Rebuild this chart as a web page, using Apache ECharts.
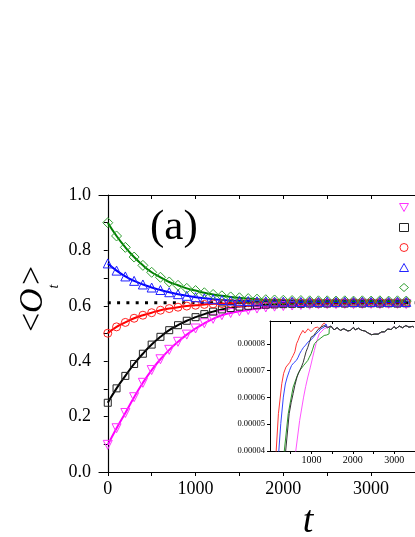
<!DOCTYPE html>
<html>
<head>
<meta charset="utf-8">
<script src="https://cdn.jsdelivr.net/npm/echarts@6/dist/echarts.min.js"></script>
<style>
  body { margin: 0; background: #fff; }
  #chart { width: 415px; height: 537px; }
</style>
</head>
<body>
<div id="chart"></div>
<script>
// main panel: t values of the markers
const tMain = [0, 100, 200, 300, 400, 500, 600, 700, 800, 900, 1000, 1100, 1200, 1300, 1400, 1500, 1600,
  1700, 1800, 1900, 2000, 2100, 2200, 2300, 2400, 2500, 2600, 2700, 2800, 2900, 3000, 3100, 3200, 3300, 3400];

const magenta = [0.098, 0.158, 0.213, 0.270, 0.322, 0.368, 0.407, 0.441, 0.470, 0.496, 0.518, 0.537, 0.553,
  0.566, 0.574, 0.580, 0.585, 0.590, 0.594, 0.597, 0.599, 0.601, 0.603, 0.604, 0.605, 0.606, 0.606, 0.607,
  0.606, 0.607, 0.607, 0.606, 0.607, 0.607, 0.606];
const black = [0.250, 0.302, 0.347, 0.390, 0.427, 0.460, 0.488, 0.512, 0.530, 0.546, 0.559, 0.570, 0.579,
  0.587, 0.592, 0.597, 0.600, 0.602, 0.604, 0.605, 0.606, 0.607, 0.607, 0.608, 0.608, 0.608, 0.609, 0.608,
  0.609, 0.608, 0.609, 0.608, 0.609, 0.608, 0.609];
const red = [0.501, 0.524, 0.540, 0.555, 0.566, 0.575, 0.584, 0.590, 0.595, 0.599, 0.602, 0.605, 0.607,
  0.608, 0.609, 0.610, 0.611, 0.611, 0.611, 0.612, 0.611, 0.612, 0.611, 0.612, 0.612, 0.611, 0.612, 0.611,
  0.612, 0.612, 0.611, 0.612, 0.611, 0.612, 0.612];
const blue = [0.753, 0.727, 0.706, 0.690, 0.677, 0.666, 0.657, 0.649, 0.642, 0.636, 0.631, 0.627, 0.624,
  0.621, 0.619, 0.618, 0.617, 0.616, 0.616, 0.615, 0.615, 0.615, 0.614, 0.615, 0.614, 0.615, 0.614, 0.615,
  0.614, 0.615, 0.614, 0.615, 0.614, 0.615, 0.614];
const green = [0.900, 0.852, 0.811, 0.776, 0.746, 0.721, 0.703, 0.686, 0.674, 0.663, 0.655, 0.647, 0.641,
  0.636, 0.632, 0.629, 0.626, 0.624, 0.622, 0.621, 0.620, 0.619, 0.619, 0.618, 0.618, 0.618, 0.617, 0.618,
  0.617, 0.618, 0.617, 0.618, 0.617, 0.618, 0.617];

// dotted equilibrium line
const eqT = [0, 3500];
const eqV = [0.611, 0.611];

// tick labels
const xTicks = [0, 500, 1000, 1500, 2000, 2500, 3000, 3500];
const xLabels = [0, 1000, 2000, 3000];

// inset: [t, value in units of 1e-5]
const insetRed = [[120, 3.6], [149, 4.0], [203, 5.39], [284, 6.51], [330, 6.9], [385, 7.13], [430, 7.2],
  [480, 7.31], [520, 7.45], [558, 7.56], [600, 7.7], [640, 8.0], [676, 8.12], [720, 8.3], [757, 8.37],
  [794, 8.5], [840, 8.4], [875, 8.43], [920, 8.56], [953, 8.56], [990, 8.45], [1031, 8.43], [1080, 8.6],
  [1149, 8.62], [1200, 8.55], [1260, 8.7], [1310, 8.78]];
const insetBlue = [[180, 3.6], [213, 4.0], [260, 5.02], [322, 6.01], [370, 6.5], [416, 6.76], [470, 7.0],
  [520, 7.19], [580, 7.3], [638, 7.38], [680, 7.5], [716, 7.63], [760, 7.75], [811, 7.87], [860, 7.95],
  [913, 8.06], [950, 8.1], [993, 8.15], [1050, 8.25], [1111, 8.37], [1170, 8.45], [1229, 8.56], [1307, 8.62]];
const insetBlack = [[350, 3.6], [378, 4.0], [463, 5.39], [510, 5.8], [558, 6.14], [600, 6.45], [652, 6.76],
  [700, 6.95], [757, 7.13], [800, 7.3], [835, 7.5], [870, 7.7], [913, 7.87], [950, 8.05], [993, 8.25],
  [1050, 8.3], [1111, 8.43], [1170, 8.55], [1229, 8.62], [1307, 8.68]];
const insetGreen = [[315, 3.6], [345, 4.0], [440, 5.39], [500, 5.9], [558, 6.38], [620, 6.65], [676, 6.88],
  [740, 7.05], [811, 7.19], [860, 7.28], [913, 7.38], [950, 7.5], [993, 7.63], [1030, 7.8], [1071, 8.0],
  [1110, 8.05], [1149, 8.12], [1230, 8.22], [1307, 8.31], [1370, 8.33], [1426, 8.37]];
const insetMagenta = [[590, 3.6], [622, 4.0], [716, 5.14], [811, 6.01], [860, 6.4], [913, 6.76], [970, 7.1],
  [1031, 7.5], [1070, 7.75], [1111, 8.0], [1150, 8.2], [1189, 8.37], [1250, 8.47], [1307, 8.56],
  [1370, 8.6], [1426, 8.62]];
// common noisy plateau once the runs have merged
const insetTail = [[1350, 8.74], [1390, 8.6], [1430, 8.55], [1470, 8.66], [1506, 8.62], [1545, 8.52],
  [1584, 8.50], [1620, 8.6], [1662, 8.58], [1700, 8.5], [1740, 8.46], [1780, 8.56], [1820, 8.53],
  [1880, 8.48], [1939, 8.50], [1980, 8.56], [2017, 8.61], [2055, 8.52], [2095, 8.51], [2135, 8.58],
  [2175, 8.56], [2215, 8.5], [2253, 8.47], [2290, 8.48], [2331, 8.43], [2370, 8.4], [2411, 8.37],
  [2450, 8.34], [2489, 8.31], [2530, 8.36], [2567, 8.38], [2610, 8.36], [2648, 8.41], [2690, 8.44],
  [2726, 8.47], [2765, 8.45], [2804, 8.50], [2845, 8.55], [2884, 8.58], [2922, 8.53], [2960, 8.6],
  [3002, 8.64], [3040, 8.56], [3080, 8.58], [3120, 8.66], [3158, 8.68], [3200, 8.6], [3239, 8.62],
  [3280, 8.68], [3317, 8.66], [3355, 8.62], [3395, 8.60], [3435, 8.65], [3473, 8.62]];
const insetYTicks = [4, 5, 6, 7, 8];
const insetXTicks = [500, 1000, 1500, 2000, 2500, 3000, 3500];
const insetXLabels = [1000, 2000, 3000];

const FONT = '"Liberation Serif", "DejaVu Serif", serif';
const C = { magenta: '#ff00ff', black: '#000000', red: '#ff0000', blue: '#0000ff', green: '#008000' };
const markerC = { magenta: '#ff33ff', black: '#222222', red: '#ff2222', blue: '#2222ff', green: '#33a033' };
const insetC = { magenta: '#ff55ff', black: '#333333', red: '#ff3333', blue: '#3344ff', green: '#2a9a2a' };

const pairs = (xs, ys) => xs.map((x, i) => [x, ys[i]]);
const withTail = (rise) => rise.concat(insetTail.filter(p => p[0] > rise[rise.length - 1][0]));

function mainSeries(name, key, data, symbol, size, rotate) {
  return {
    name: name,
    type: 'line',
    xAxisIndex: 0,
    yAxisIndex: 0,
    data: pairs(tMain, data),
    smooth: true,
    symbol: symbol,
    symbolSize: size,
    symbolRotate: rotate || 0,
    lineStyle: { color: C[key], width: 2 },
    itemStyle: { color: 'rgba(255,255,255,0)', borderColor: markerC[key], borderWidth: 1 },
    z: 3
  };
}

function insetSeries(name, key, data) {
  return {
    name: name,
    type: 'line',
    xAxisIndex: 2,
    yAxisIndex: 1,
    data: withTail(data),
    showSymbol: false,
    lineStyle: { color: insetC[key], width: 1 },
    z: 4
  };
}

const axisCommon = {
  axisLine: { lineStyle: { color: '#000', width: 1.2 } },
  splitLine: { show: false }
};

const chart = echarts.init(document.getElementById('chart'), null, { renderer: 'canvas' });
chart.setOption({
  animation: false,
  backgroundColor: '#fff',
  grid: [
    { left: 99, top: 195, right: -16, bottom: 65 },
    { left: 270, top: 321, right: -4, bottom: 86, show: true, backgroundColor: '#fff', borderWidth: 0 }
  ],
  xAxis: [
    Object.assign({}, axisCommon, {
      type: 'value', gridIndex: 0, min: -100, max: 3500,
      axisTick: { inside: false, length: 4, customValues: xTicks, lineStyle: { color: '#000' } },
      axisLabel: { customValues: xLabels, formatter: v => String(v), fontFamily: FONT, fontSize: 18, color: '#000', margin: 8 }
    }),
    Object.assign({}, axisCommon, {
      type: 'value', gridIndex: 0, min: -100, max: 3500, position: 'top',
      axisTick: { inside: true, length: 4, customValues: xTicks, lineStyle: { color: '#000' } },
      axisLabel: { show: false }
    }),
    Object.assign({}, axisCommon, {
      type: 'value', gridIndex: 1, min: 0, max: 3500,
      axisLine: { lineStyle: { color: '#000', width: 1 } },
      axisTick: { inside: false, length: 3, customValues: insetXTicks, lineStyle: { color: '#000' } },
      axisLabel: { customValues: insetXLabels, formatter: v => String(v), fontFamily: FONT, fontSize: 10, color: '#000', margin: 4 }
    }),
    Object.assign({}, axisCommon, {
      type: 'value', gridIndex: 1, min: 0, max: 3500, position: 'top',
      axisLine: { lineStyle: { color: '#000', width: 1 } },
      axisTick: { inside: true, length: 3, customValues: insetXTicks, lineStyle: { color: '#000' } },
      axisLabel: { show: false }
    })
  ],
  yAxis: [
    Object.assign({}, axisCommon, {
      type: 'value', gridIndex: 0, min: 0, max: 1, interval: 0.1,
      axisTick: { inside: false, length: 4, lineStyle: { color: '#000' } },
      axisLabel: {
        fontFamily: FONT, fontSize: 18, color: '#000', margin: 8,
        formatter: v => (Math.round(v * 10) % 2 === 0 ? v.toFixed(1) : '')
      }
    }),
    Object.assign({}, axisCommon, {
      type: 'value', gridIndex: 1, min: 4, max: 8.85,
      axisLine: { lineStyle: { color: '#000', width: 1 } },
      axisTick: { inside: false, length: 3, customValues: insetYTicks, lineStyle: { color: '#000' } },
      axisLabel: {
        customValues: insetYTicks, fontFamily: FONT, fontSize: 8.5, color: '#000', margin: 5,
        formatter: v => (v * 1e-5).toFixed(5)
      }
    })
  ],
  legend: {
    orient: 'vertical',
    left: 394,
    top: 198,
    itemWidth: 9,
    itemHeight: 8,
    itemGap: 11,
    formatter: () => '',
    data: [
      { name: '0.1', icon: 'path://M0,0L10,0L5,9Z', itemStyle: { color: 'rgba(255,255,255,0)', borderColor: markerC.magenta, borderWidth: 1 } },
      { name: '0.25', icon: 'rect', itemStyle: { color: 'rgba(255,255,255,0)', borderColor: markerC.black, borderWidth: 1 } },
      { name: '0.5', icon: 'circle', itemStyle: { color: 'rgba(255,255,255,0)', borderColor: markerC.red, borderWidth: 1 } },
      { name: '0.75', icon: 'triangle', itemStyle: { color: 'rgba(255,255,255,0)', borderColor: markerC.blue, borderWidth: 1 } },
      { name: '0.9', icon: 'diamond', itemStyle: { color: 'rgba(255,255,255,0)', borderColor: markerC.green, borderWidth: 1 } }
    ]
  },
  graphic: [
    {
      type: 'text', x: 150, y: 228,
      style: { text: '(a)', font: '43px ' + FONT, fill: '#000', textAlign: 'left', textVerticalAlign: 'middle' }
    },
    {
      type: 'text', x: 308, y: 522,
      style: { text: 't', font: 'italic 38px ' + FONT, fill: '#000', textAlign: 'center', textVerticalAlign: 'middle' }
    },
    {
      type: 'group', x: 45, y: 332, rotation: Math.PI / 2,
      children: [
        { type: 'text', x: 0, y: -11.5, style: { text: '<', font: '34px ' + FONT, fill: '#000', textAlign: 'left', textVerticalAlign: 'middle' } },
        { type: 'text', x: 19, y: -11.5, style: { text: 'O', font: 'italic 34px ' + FONT, fill: '#000', textAlign: 'left', textVerticalAlign: 'middle' } },
        { type: 'text', x: 43.5, y: 9.6, style: { text: 't', font: 'italic 14px ' + FONT, fill: '#000', textAlign: 'left', textVerticalAlign: 'middle' } },
        { type: 'text', x: 47, y: -11.5, style: { text: '>', font: '34px ' + FONT, fill: '#000', textAlign: 'left', textVerticalAlign: 'middle' } }
      ]
    }
  ],
  series: [
    {
      name: 'equilibrium',
      type: 'line',
      xAxisIndex: 0,
      yAxisIndex: 0,
      data: pairs(eqT, eqV),
      showSymbol: false,
      lineStyle: { color: '#000', width: 3, type: [3, 6.3] },
      z: 2
    },
    mainSeries('0.1', 'magenta', magenta, 'triangle', 9, 180),
    mainSeries('0.25', 'black', black, 'rect', 7),
    mainSeries('0.5', 'red', red, 'circle', 8),
    mainSeries('0.75', 'blue', blue, 'triangle', 9),
    mainSeries('0.9', 'green', green, 'diamond', 10),
    insetSeries('inset 0.5', 'red', insetRed),
    insetSeries('inset 0.75', 'blue', insetBlue),
    insetSeries('inset 0.1', 'magenta', insetMagenta),
    insetSeries('inset 0.9', 'green', insetGreen),
    insetSeries('inset 0.25', 'black', insetBlack)
  ]
});
</script>
</body>
</html>
